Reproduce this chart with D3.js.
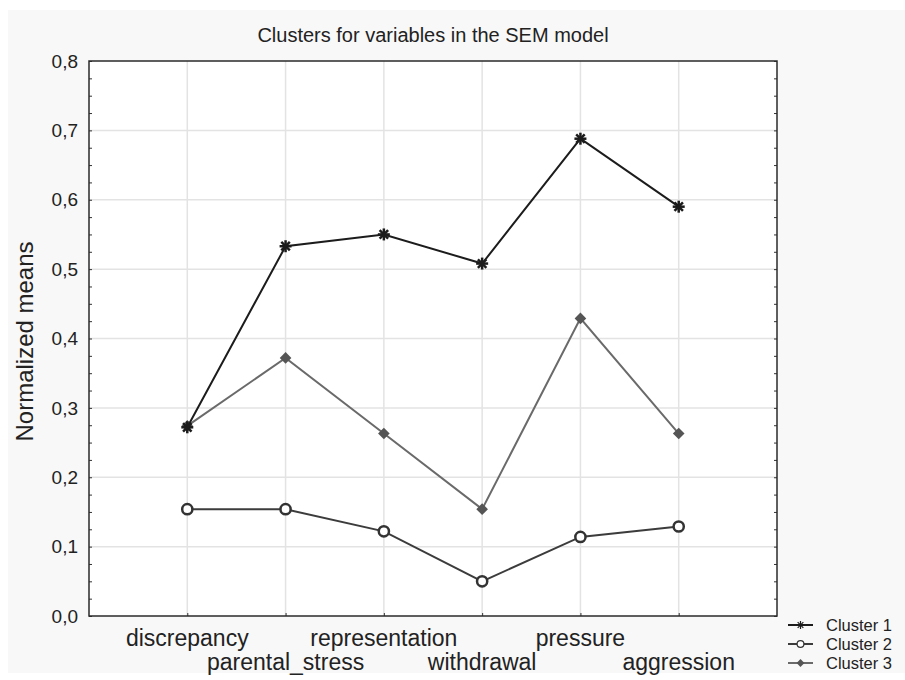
<!DOCTYPE html>
<html>
<head>
<meta charset="utf-8">
<script src="https://cdn.jsdelivr.net/npm/d3@7"></script>
<style>
  body { margin: 0; background: #ffffff; }
  text { font-family: "Liberation Sans", Arial, sans-serif; fill: #222; }
</style>
</head>
<body>
<div id="chart"></div>
<script>
var categories = ["discrepancy", "parental_stress", "representation", "withdrawal", "pressure", "aggression"];
var cluster1 = [0.272, 0.533, 0.550, 0.508, 0.688, 0.590];
var cluster2 = [0.154, 0.154, 0.122, 0.050, 0.114, 0.129];
var cluster3 = [0.274, 0.372, 0.263, 0.154, 0.429, 0.263];
var yTicks = [0, 0.1, 0.2, 0.3, 0.4, 0.5, 0.6, 0.7, 0.8];
var seriesNames = ["Cluster 1", "Cluster 2", "Cluster 3"];

var width = 905, height = 680;
var margin = {left: 89, right: 128, top: 61, bottom: 64};

var svg = d3.select("#chart").append("svg")
    .attr("width", width)
    .attr("height", height);

// fondo gris claro del gráfico
svg.append("rect")
    .attr("x", 8).attr("y", 10)
    .attr("width", width - 8).attr("height", 663)
    .attr("fill", "#f8f8f8");

var x = d3.scaleLinear()
    .domain([0, categories.length + 1])
    .range([margin.left, width - margin.right]);

var y = d3.scaleLinear()
    .domain([0, 0.8])
    .range([height - margin.bottom, margin.top]);

var plotW = x.range()[1] - x.range()[0];
var plotH = y.range()[0] - y.range()[1];

svg.append("rect")
    .attr("x", margin.left).attr("y", margin.top)
    .attr("width", plotW).attr("height", plotH)
    .attr("fill", "#ffffff");

// grilla
var grid = svg.append("g").attr("class", "grid");
grid.selectAll(".hg")
    .data(yTicks.slice(1, -1))
    .enter().append("line")
    .attr("x1", margin.left).attr("x2", margin.left + plotW)
    .attr("y1", function(d) { return y(d); })
    .attr("y2", function(d) { return y(d); })
    .attr("stroke", "#e3e3e3").attr("stroke-width", 1.5);

grid.selectAll(".vg")
    .data(categories)
    .enter().append("line")
    .attr("x1", function(d, i) { return x(i + 1); })
    .attr("x2", function(d, i) { return x(i + 1); })
    .attr("y1", margin.top).attr("y2", margin.top + plotH)
    .attr("stroke", "#e3e3e3").attr("stroke-width", 1.5);

// ejes con ticks hacia adentro
var minor = d3.range(0, 0.8001, 0.025);
var yLeft = d3.axisRight(y).tickValues(minor).tickSize(3).tickFormat("");
svg.append("g").attr("transform", "translate(" + margin.left + ",0)").call(yLeft)
    .call(function(g) { g.select(".domain").remove(); g.selectAll("line").attr("stroke", "#333"); });
var yRight = d3.axisLeft(y).tickValues(minor).tickSize(3).tickFormat("");
svg.append("g").attr("transform", "translate(" + (margin.left + plotW) + ",0)").call(yRight)
    .call(function(g) { g.select(".domain").remove(); g.selectAll("line").attr("stroke", "#333"); });

var xAxis = d3.axisTop(x).tickValues(d3.range(1, categories.length + 1)).tickSize(3).tickFormat("");
svg.append("g").attr("transform", "translate(0," + (margin.top + plotH) + ")").call(xAxis)
    .call(function(g) { g.select(".domain").remove(); g.selectAll("line").attr("stroke", "#333"); });

svg.append("rect")
    .attr("x", margin.left).attr("y", margin.top)
    .attr("width", plotW).attr("height", plotH)
    .attr("fill", "none").attr("stroke", "#2a2a2a").attr("stroke-width", 1.5);

// etiquetas eje y
svg.selectAll(".ylab")
    .data(yTicks)
    .enter().append("text")
    .attr("x", margin.left - 11)
    .attr("y", function(d) { return y(d); })
    .attr("dy", "0.35em")
    .attr("text-anchor", "end")
    .style("font-size", "19px")
    .text(function(d) { return d3.format(".1f")(d).replace(".", ","); });

// etiquetas eje x, alternadas en dos filas
svg.selectAll(".xlab")
    .data(categories)
    .enter().append("text")
    .attr("x", function(d, i) { return x(i + 1); })
    .attr("y", function(d, i) { return i % 2 == 0 ? 646 : 670; })
    .attr("text-anchor", "middle")
    .style("font-size", "23px")
    .text(function(d) { return d; });

svg.append("text")
    .attr("x", margin.left + plotW / 2)
    .attr("y", 42)
    .attr("text-anchor", "middle")
    .style("font-size", "20px")
    .text("Clusters for variables in the SEM model");

svg.append("text")
    .attr("transform", "translate(33," + (margin.top + plotH / 2 + 3) + ") rotate(-90)")
    .attr("text-anchor", "middle")
    .style("font-size", "24px")
    .text("Normalized means");

// series
var series = [
    {name: seriesNames[0], values: cluster1, color: "#1c1c1c", mcolor: "#1c1c1c", marker: "star"},
    {name: seriesNames[1], values: cluster2, color: "#3c3c3c", mcolor: "#333333", marker: "circle"},
    {name: seriesNames[2], values: cluster3, color: "#6a6a6a", mcolor: "#555555", marker: "diamond"}
];

var line = d3.line()
    .x(function(d, i) { return x(i + 1); })
    .y(function(d) { return y(d); });

function drawMarker(g, type, color, size, sw) {
    if (type == "star") {
        [0, 45, 90, 135].forEach(function(a) {
            var r = a * Math.PI / 180;
            g.append("line")
                .attr("x1", -size * Math.cos(r)).attr("y1", -size * Math.sin(r))
                .attr("x2", size * Math.cos(r)).attr("y2", size * Math.sin(r))
                .attr("stroke", color).attr("stroke-width", sw);
        });
    } else if (type == "circle") {
        g.append("circle").attr("r", size * 0.85)
            .attr("fill", "#fff").attr("stroke", color).attr("stroke-width", sw);
    } else {
        g.append("path")
            .attr("d", d3.symbol().type(d3.symbolDiamond2).size(size * size * 2.4)())
            .attr("fill", color);
    }
}

// orden de dibujo: cluster 3, cluster 2, cluster 1 encima
[series[2], series[1], series[0]].forEach(function(s) {
    svg.append("path")
        .datum(s.values)
        .attr("d", line)
        .attr("fill", "none")
        .attr("stroke", s.color)
        .attr("stroke-width", 2);
    s.values.forEach(function(v, i) {
        var g = svg.append("g").attr("transform", "translate(" + x(i + 1) + "," + y(v) + ")");
        drawMarker(g, s.marker, s.mcolor, 6, 2.5);
    });
});

// leyenda
var legend = svg.append("g").attr("transform", "translate(788,625)");
series.forEach(function(s, i) {
    var g = legend.append("g").attr("transform", "translate(0," + (i * 19) + ")");
    g.append("line").attr("x1", 0).attr("x2", 25).attr("y1", 0).attr("y2", 0)
        .attr("stroke", s.color).attr("stroke-width", 2);
    var m = g.append("g").attr("transform", "translate(12.5,0)");
    drawMarker(m, s.marker, s.mcolor, 4, 1.2);
    g.append("text").attr("x", 38).attr("y", 0).attr("dy", "0.35em")
        .style("font-size", "16.5px").text(s.name);
});
</script>
</body>
</html>
